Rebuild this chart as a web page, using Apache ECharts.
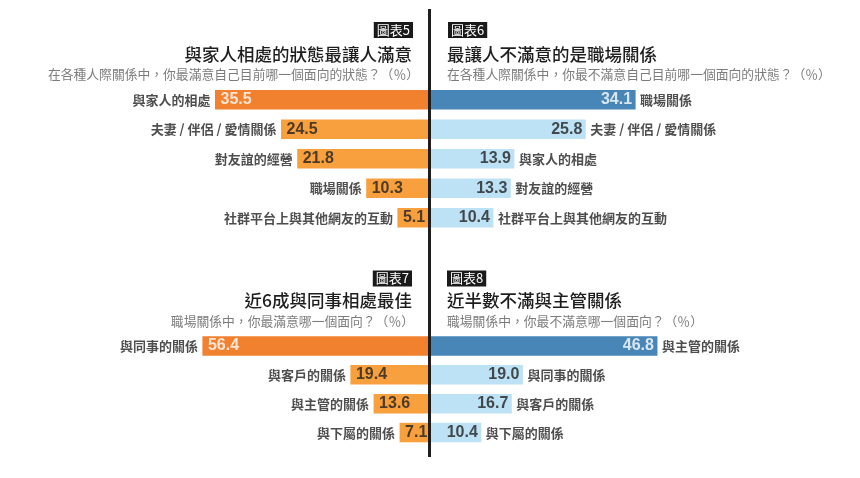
<!DOCTYPE html>
<html><head><meta charset="utf-8">
<script src="https://cdn.jsdelivr.net/npm/echarts@6/dist/echarts.min.js"></script>
<style>html,body{margin:0;padding:0;background:#fff}#c{width:860px;height:478px}</style>
</head><body><div id="c"></div>
<script>
const catsA = ['與家人的相處','夫妻 / 伴侶 / 愛情關係','對友誼的經營','職場關係','社群平台上與其他網友的互動'];
const valsA = [35.5, 24.5, 21.8, 10.3, 5.1];
const catsB = ['職場關係','夫妻 / 伴侶 / 愛情關係','與家人的相處','對友誼的經營','社群平台上與其他網友的互動'];
const valsB = [34.1, 25.8, 13.9, 13.3, 10.4];
const catsC = ['與同事的關係','與客戶的關係','與主管的關係','與下屬的關係'];
const valsC = [56.4, 19.4, 13.6, 7.1];
const catsD = ['與主管的關係','與同事的關係','與客戶的關係','與下屬的關係'];
const valsD = [46.8, 19.0, 16.7, 10.4];

const CJK = '"Noto Sans CJK TC","Noto Sans CJK SC",sans-serif';
const NUM = '"Liberation Sans",Arial,sans-serif';
const ORANGE_D = '#F2812F', ORANGE_L = '#F7A03D', BLUE_D = '#4786B6', BLUE_L = '#BDE2F5';

const chart = echarts.init(document.getElementById('c'));

const panels = [
  {cats: catsA, vals: valsA, left: true,  max: 50, top: 85,  h: 147.5, dark: ORANGE_D, light: ORANGE_L},
  {cats: catsB, vals: valsB, left: false, max: 50, top: 85,  h: 147.5, dark: BLUE_D,   light: BLUE_L},
  {cats: catsC, vals: valsC, left: true,  max: 75, top: 331.5, h: 115.5, dark: ORANGE_D, light: ORANGE_L},
  {cats: catsD, vals: valsD, left: false, max: 62, top: 331.5, h: 115.5, dark: BLUE_D,   light: BLUE_L}
];

const grid = [], xAxis = [], yAxis = [], series = [];
panels.forEach((p, i) => {
  grid.push(p.left ? {left: 128, width: 300, top: p.top, height: p.h}
                   : {left: 431, width: 300, top: p.top, height: p.h});
  xAxis.push({type: 'value', gridIndex: i, min: 0, max: p.max, inverse: p.left, show: false});
  yAxis.push({type: 'category', gridIndex: i, data: p.cats, inverse: true, show: false});
  series.push({
    type: 'bar', xAxisIndex: i, yAxisIndex: i, barWidth: 19.5, silent: true,
    data: p.vals.map((v, k) => ({value: v, itemStyle: {color: k === 0 ? p.dark : p.light}}))
  });
  series.push({
    type: 'scatter', xAxisIndex: i, yAxisIndex: i, symbolSize: 1, silent: true,
    itemStyle: {color: 'rgba(0,0,0,0)'},
    data: p.vals.map((v, k) => ({
      value: [v, k],
      label: {
        show: true, position: p.left ? 'right' : 'left', distance: p.left ? 5 : 3,
        formatter: v.toFixed(1), fontFamily: NUM, fontWeight: 'bold', fontSize: 16,
        color: k === 0 ? '#fff' : '#222'
      }
    }))
  });
  series.push({
    type: 'scatter', xAxisIndex: i, yAxisIndex: i, symbolSize: 1, silent: true,
    itemStyle: {color: 'rgba(0,0,0,0)'},
    data: p.vals.map((v, k) => ({
      value: [v, k],
      label: {
        show: true, position: p.left ? 'left' : 'right', distance: 4,
        formatter: p.cats[k], fontFamily: CJK, fontWeight: 'bold', fontSize: 13, color: '#222'
      }
    }))
  });
});

function badge(txt, x, y, align) {
  return {type: 'text', x: x, y: y, style: {text: txt, fill: '#fff', backgroundColor: '#1a1a1a',
    padding: [2, 3, 1, 3], font: '13px ' + CJK, align: align, verticalAlign: 'middle'}};
}
function title(txt, x, y, align) {
  return {type: 'text', x: x, y: y, style: {text: txt, fill: '#1e1e1e', font: '500 17.5px ' + CJK, align: align, verticalAlign: 'middle'}};
}
function sub(txt, x, y, align) {
  return {type: 'text', x: x, y: y, style: {text: txt, fill: '#7c7c7c', font: '12.8px ' + CJK, align: align, verticalAlign: 'middle'}};
}

const graphic = [
  {type: 'line', shape: {x1: 429.5, y1: 9, x2: 429.5, y2: 457}, style: {stroke: '#1e1e1e', lineWidth: 3}, z: 100},
  badge('圖表5', 413, 30, 'right'),
  title('與家人相處的狀態最讓人滿意', 412, 54.5, 'right'),
  sub('在各種人際關係中，你最滿意自己目前哪一個面向的狀態？（％）', 419, 74.5, 'right'),
  badge('圖表6', 448, 30, 'left'),
  title('最讓人不滿意的是職場關係', 447, 54.5, 'left'),
  sub('在各種人際關係中，你最不滿意自己目前哪一個面向的狀態？（％）', 447, 74.5, 'left'),
  badge('圖表7', 412, 278.5, 'right'),
  title('近6成與同事相處最佳', 412, 300, 'right'),
  sub('職場關係中，你最滿意哪一個面向？（％）', 414, 321, 'right'),
  badge('圖表8', 447, 278.5, 'left'),
  title('近半數不滿與主管關係', 447, 300, 'left'),
  sub('職場關係中，你最不滿意哪一個面向？（％）', 447, 321, 'left')
];

chart.setOption({animation: false, grid, xAxis, yAxis, series, graphic});
</script></body></html>
